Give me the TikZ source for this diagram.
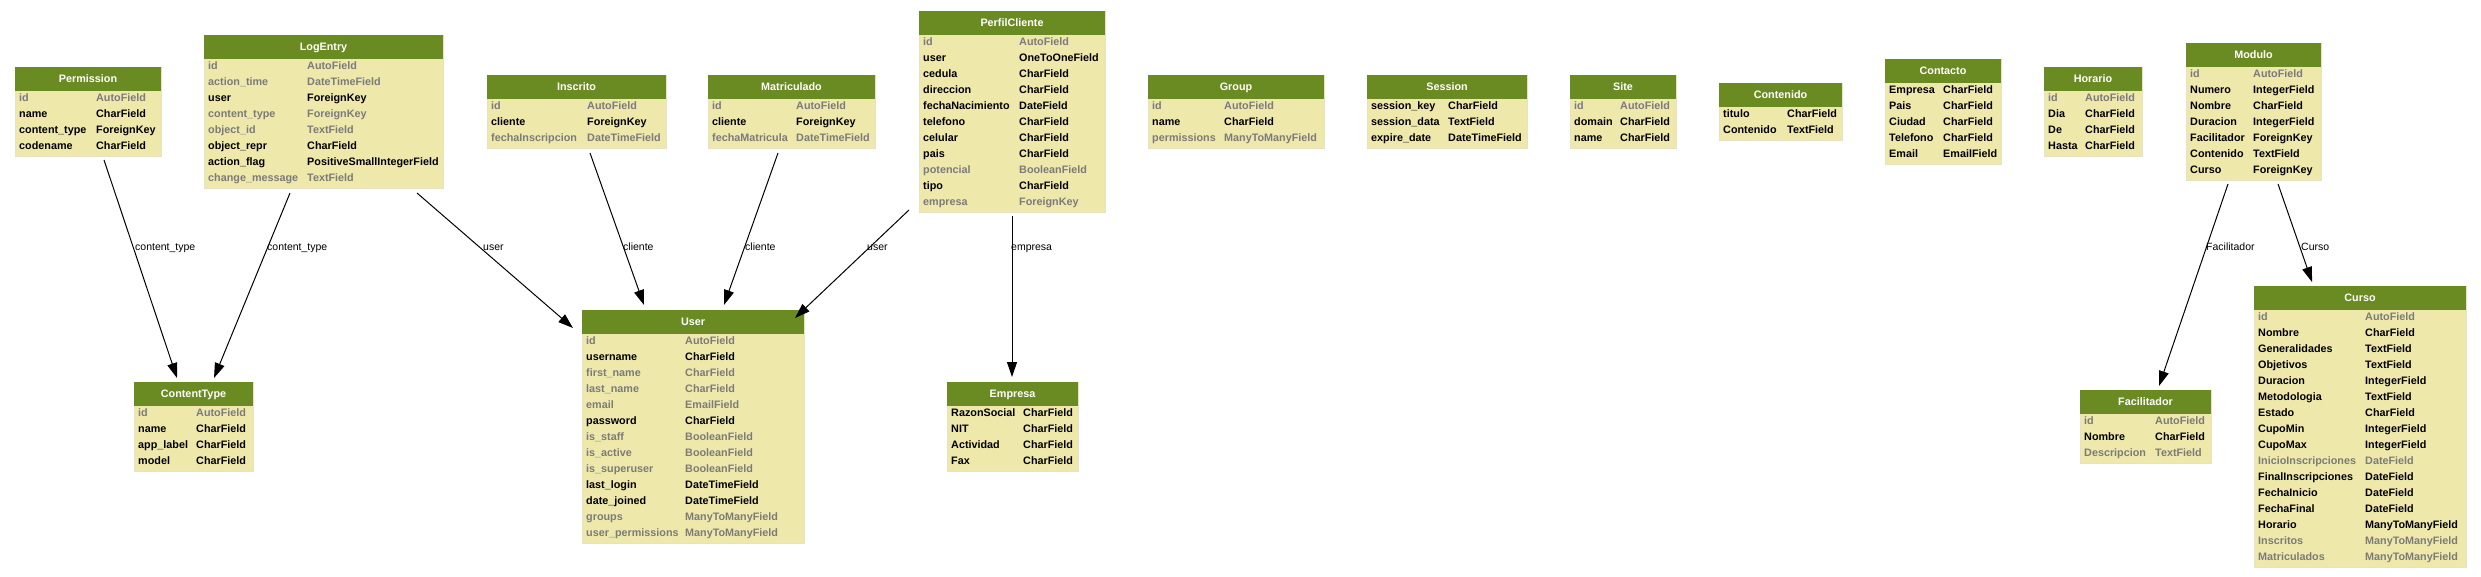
\documentclass[tikz,border=0pt]{standalone}
\usepackage{fontspec}
\setmainfont{Liberation Sans}
\usetikzlibrary{arrows.meta,calc}
\definecolor{hdrgreen}{HTML}{698B22}
\definecolor{bodyyellow}{HTML}{EEE8AA}
\definecolor{fg}{HTML}{7B7B7B}
\definecolor{fb}{HTML}{000000}
\tikzset{
  tblbody/.style={fill=bodyyellow, draw=bodyyellow!90!black!60, line width=0.5pt, inner sep=0pt, outer sep=0pt},
  hdrbox/.style={fill=hdrgreen, inner sep=0pt, outer sep=0pt},
  hdrtext/.style={anchor=base, text=white, inner sep=0pt, font=\bfseries\fontsize{10.8}{12}\selectfont},
  fieldtext/.style={anchor=base west, inner sep=0pt, font=\bfseries\fontsize{10.8}{12}\selectfont},
  fk/.style={draw=black, line width=1pt, -{Triangle[length=15pt,width=10pt]}},
  elabel/.style={anchor=base west, inner sep=0pt, font=\fontsize{10.5}{12}\selectfont},
}
% #1 name, #2 left, #3 top, #4 right, #5 type column x, #6 title, #7 rows, #8 field list
\newcommand\dbtable[8]{%
  \pgfmathsetmacro\tbh{24+16*#7+1}%
  \pgfmathsetmacro\tbw{#4-#2}%
  \node[tblbody, anchor=north west, minimum width=\tbw pt, minimum height=\tbh pt] (#1) at (#2,#3) {};
  \node[hdrbox, anchor=north west, minimum width=\tbw pt, minimum height=24pt] (#1-h) at (#2,#3) {};
  \node[hdrtext] (#1-t) at ({(#2+#4)/2},#3+15) {#6};
  \foreach \fn/\ft/\fc [count=\i from 0] in {#8} {
    \node[fieldtext, text=\fc] (#1-n\i) at (#2+4,#3+34+16*\i) {\fn};
    \node[fieldtext, text=\fc] (#1-y\i) at (#5,#3+34+16*\i) {\ft};
  }
}
\begin{document}
\begin{tikzpicture}[x=1pt,y=-1pt]
\fill[white] (0,0) rectangle (2481,576);
\useasboundingbox (0,0) rectangle (2481,576);

\dbtable{perm}{15}{67}{161}{96}{Permission}{4}{id/AutoField/fg, name/CharField/fb, content\_type/ForeignKey/fb, codename/CharField/fb}
\dbtable{log}{204}{35}{443}{307}{LogEntry}{8}{id/AutoField/fg, action\_time/DateTimeField/fg, user/ForeignKey/fb, content\_type/ForeignKey/fg, object\_id/TextField/fg, object\_repr/CharField/fb, action\_flag/PositiveSmallIntegerField/fb, change\_message/TextField/fg}
\dbtable{ins}{487}{75}{666}{587}{Inscrito}{3}{id/AutoField/fg, cliente/ForeignKey/fb, fechaInscripcion/DateTimeField/fg}
\dbtable{mat}{708}{75}{875}{796}{Matriculado}{3}{id/AutoField/fg, cliente/ForeignKey/fb, fechaMatricula/DateTimeField/fg}
\dbtable{perfil}{919}{11}{1105}{1019}{PerfilCliente}{11}{id/AutoField/fg, user/OneToOneField/fb, cedula/CharField/fb, direccion/CharField/fb, fechaNacimiento/DateField/fb, telefono/CharField/fb, celular/CharField/fb, pais/CharField/fb, potencial/BooleanField/fg, tipo/CharField/fb, empresa/ForeignKey/fg}
\dbtable{grp}{1148}{75}{1324}{1224}{Group}{3}{id/AutoField/fg, name/CharField/fb, permissions/ManyToManyField/fg}
\dbtable{sess}{1367}{75}{1527}{1448}{Session}{3}{session\_key/CharField/fb, session\_data/TextField/fb, expire\_date/DateTimeField/fb}
\dbtable{site}{1570}{75}{1676}{1620}{Site}{3}{id/AutoField/fg, domain/CharField/fb, name/CharField/fb}
\dbtable{cont}{1719}{83}{1842}{1787}{Contenido}{2}{titulo/CharField/fb, Contenido/TextField/fb}
\dbtable{contac}{1885}{59}{2001}{1943}{Contacto}{5}{Empresa/CharField/fb, Pais/CharField/fb, Ciudad/CharField/fb, Telefono/CharField/fb, Email/EmailField/fb}
\dbtable{hor}{2044}{67}{2142}{2085}{Horario}{4}{id/AutoField/fg, Dia/CharField/fb, De/CharField/fb, Hasta/CharField/fb}
\dbtable{mod}{2186}{43}{2321}{2253}{Modulo}{7}{id/AutoField/fg, Numero/IntegerField/fb, Nombre/CharField/fb, Duracion/IntegerField/fb, Facilitador/ForeignKey/fb, Contenido/TextField/fb, Curso/ForeignKey/fb}
\dbtable{fac}{2080}{390}{2211}{2155}{Facilitador}{3}{id/AutoField/fg, Nombre/CharField/fb, Descripcion/TextField/fg}
\dbtable{curso}{2254}{286}{2466}{2365}{Curso}{16}{id/AutoField/fg, Nombre/CharField/fb, Generalidades/TextField/fb, Objetivos/TextField/fb, Duracion/IntegerField/fb, Metodologia/TextField/fb, Estado/CharField/fb, CupoMin/IntegerField/fb, CupoMax/IntegerField/fb, InicioInscripciones/DateField/fg, FinalInscripciones/DateField/fb, FechaInicio/DateField/fb, FechaFinal/DateField/fb, Horario/ManyToManyField/fb, Inscritos/ManyToManyField/fg, Matriculados/ManyToManyField/fg}
\dbtable{user}{582}{310}{804}{685}{User}{13}{id/AutoField/fg, username/CharField/fb, first\_name/CharField/fg, last\_name/CharField/fg, email/EmailField/fg, password/CharField/fb, is\_staff/BooleanField/fg, is\_active/BooleanField/fg, is\_superuser/BooleanField/fg, last\_login/DateTimeField/fb, date\_joined/DateTimeField/fb, groups/ManyToManyField/fg, user\_permissions/ManyToManyField/fg}
\dbtable{ct}{134}{382}{253}{196}{ContentType}{4}{id/AutoField/fg, name/CharField/fb, app\_label/CharField/fb, model/CharField/fb}
\dbtable{emp}{947}{382}{1078}{1023}{Empresa}{4}{RazonSocial/CharField/fb, NIT/CharField/fb, Actividad/CharField/fb, Fax/CharField/fb}

% connectors
\draw[fk] ($(perm.south west)+(89,4)$) -- ($(ct.north west)+(43,-4)$);
\draw[fk] ($(log.south west)+(86,5)$) -- ($(ct.north west)+(80,-4)$);
\draw[fk] ($(log.south west)+(213,5)$) -- ($(user.north west)+(-9,18)$);
\draw[fk] ($(ins.south west)+(103,5)$) -- ($(user.north west)+(62,-5)$);
\draw[fk] ($(mat.south west)+(70,5)$) -- ($(user.north west)+(142,-5)$);
\draw[fk] ($(perfil.south west)+(-10,-2)$) -- ($(user.north east)+(-9,8)$);
\draw[fk] ($(perfil.south west)+(93,4)$) -- ($(emp.north west)+(65,-5)$);
\draw[fk] ($(mod.south west)+(42,4)$) -- ($(fac.north west)+(79,-4)$);
\draw[fk] ($(mod.south west)+(92,4)$) -- ($(curso.north west)+(58,-4)$);

% connector labels
\node[elabel] (l1) at (135,250) {content\_type};
\node[elabel] (l2) at (267,250) {content\_type};
\node[elabel] (l3) at (483,250) {user};
\node[elabel] (l4) at (623,250) {cliente};
\node[elabel] (l5) at (745,250) {cliente};
\node[elabel] (l6) at (867,250) {user};
\node[elabel] (l7) at (1011,250) {empresa};
\node[elabel] (l8) at (2206,250) {Facilitador};
\node[elabel] (l9) at (2301,250) {Curso};
\end{tikzpicture}
\end{document}
